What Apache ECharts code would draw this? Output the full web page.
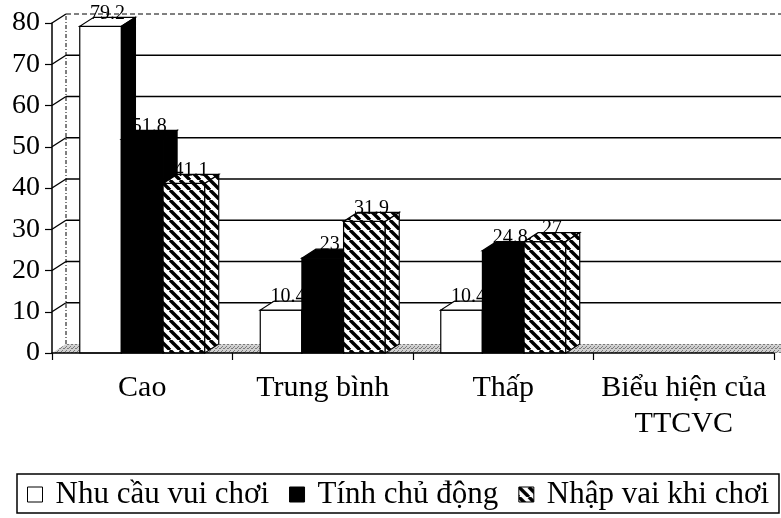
<!DOCTYPE html>
<html>
<head>
<meta charset="utf-8">
<script src="https://cdn.jsdelivr.net/npm/echarts@6/dist/echarts.min.js"></script>
<style>html,body{margin:0;padding:0;background:#fff}#c{width:781px;height:518px}</style>
</head>
<body>
<div id="c"></div>
<script>
const categories = ['Cao', 'Trung bình', 'Thấp', 'Biểu hiện của\nTTCVC'];
const seriesNames = ['Nhu cầu vui chơi', 'Tính chủ động', 'Nhập vai khi chơi'];
const nhuCauVuiChoi = [79.2, 10.4, 10.4];
const tinhChuDong = [51.8, 23, 24.8];
const nhapVaiKhiChoi = [41.1, 31.9, 27];
const yTicks = [0, 10, 20, 30, 40, 50, 60, 70, 80];

const DX = 14, DY = -9;
const FONT = 'Liberation Serif';

function makeHatch() {
  const c = document.createElement('canvas');
  c.width = 10; c.height = 10;
  const g = c.getContext('2d');
  g.fillStyle = '#fff'; g.fillRect(0, 0, 10, 10);
  g.strokeStyle = '#000'; g.lineWidth = 3.4;
  for (const k of [-10, 0, 10]) { g.beginPath(); g.moveTo(k, 0); g.lineTo(k + 10, 10); g.stroke(); }
  return c;
}
function makeFloor() {
  const c = document.createElement('canvas');
  c.width = 4; c.height = 4;
  const g = c.getContext('2d');
  g.fillStyle = '#d0d0d0'; g.fillRect(0, 0, 4, 4);
  g.fillStyle = '#7a7a7a';
  g.fillRect(0, 0, 1, 1); g.fillRect(2, 2, 1, 1); g.fillRect(3, 0, 1, 1); g.fillRect(1, 3, 1, 1);
  return c;
}
const hatch = { image: makeHatch(), repeat: 'repeat' };
const floorPat = { image: makeFloor(), repeat: 'repeat' };

const fills = [
  { front: '#fff', top: '#fff', side: '#000' },
  { front: '#000', top: '#000', side: '#000' },
  { front: hatch, top: hatch, side: hatch }
];

function barRender(pos) {
  return function (params, api) {
    const idx = api.value(0), v = api.value(1);
    const base = api.coord([idx, 0]);
    const top = api.coord([idx, v]);
    const band = api.size([1, 0])[0];
    const bw = band * 0.2308;
    const x0 = base[0] - 1.5 * bw + pos * bw;
    const yt = top[1], yb = base[1];
    const f = fills[pos];
    const st = { stroke: '#000', lineWidth: 1.2 };
    return {
      type: 'group',
      children: [
        { type: 'rect', shape: { x: x0, y: yt, width: bw, height: yb - yt }, style: Object.assign({ fill: f.front }, st) },
        { type: 'polygon', shape: { points: [[x0, yt], [x0 + bw, yt], [x0 + bw + DX, yt + DY], [x0 + DX, yt + DY]] }, style: Object.assign({ fill: f.top }, st) },
        { type: 'polygon', shape: { points: [[x0 + bw, yt], [x0 + bw + DX, yt + DY], [x0 + bw + DX, yb + DY], [x0 + bw, yb]] }, style: Object.assign({ fill: f.side }, st) },
        { type: 'text', z2: 100, style: { text: String(v), x: x0 + bw / 2 + DX / 2, y: yt + DY - 4, align: 'center', verticalAlign: 'middle', fill: '#000', font: '20px ' + FONT } }
      ]
    };
  };
}

function frameRender(params, api) {
  const cs = params.coordSys;
  const v = api.value(1);
  const y = api.coord([0, v])[1];
  const x0 = cs.x, w = cs.width;
  const maxV = yTicks[yTicks.length - 1];
  const children = [];
  if (v === 0) {
    children.push({ type: 'polygon', shape: { points: [[x0, y], [x0 + w + DX, y], [x0 + w + DX, y + DY], [x0 + DX, y + DY]] }, style: { fill: floorPat, stroke: null } });
    const yTop = api.coord([0, maxV])[1] + DY;
    children.push({ type: 'line', shape: { x1: x0 + DX, y1: y + DY, x2: x0 + DX, y2: yTop }, style: { stroke: '#000', lineWidth: 1, lineDash: [4, 2, 1, 2] } });
  } else {
    children.push({ type: 'line', shape: { x1: x0, y1: y, x2: x0 + DX, y2: y + DY }, style: { stroke: '#000', lineWidth: 1.4 } });
    children.push({ type: 'line', shape: { x1: x0 + DX, y1: y + DY, x2: x0 + w + DX, y2: y + DY }, style: v === maxV ? { stroke: '#000', lineWidth: 1, lineDash: [5, 3] } : { stroke: '#000', lineWidth: 1.6 } });
  }
  return { type: 'group', children: children };
}

const valueSets = [nhuCauVuiChoi, tinhChuDong, nhapVaiKhiChoi];
const barSeries = seriesNames.map((name, k) => ({
  name: name,
  type: 'custom',
  z: 2,
  renderItem: barRender(k),
  itemStyle: { color: k === 0 ? '#fff' : (k === 1 ? '#000' : hatch), borderColor: '#000', borderWidth: 1 },
  data: valueSets[k].map((v, i) => [i, v])
}));

const chart = echarts.init(document.getElementById('c'), null, { renderer: 'canvas' });
chart.setOption({
  animation: false,
  backgroundColor: '#fff',
  grid: { left: 52, right: 7, top: 23, bottom: 165 },
  xAxis: {
    type: 'category', data: categories, z: 3,
    axisLine: { lineStyle: { color: '#000', width: 1.5 } },
    axisTick: { show: true, length: 7, lineStyle: { color: '#000', width: 1.2 } },
    axisLabel: { color: '#000', fontFamily: FONT, fontSize: 30, lineHeight: 36, margin: 17, interval: 0 }
  },
  yAxis: {
    type: 'value', min: 0, max: 80, interval: 10, z: 3,
    axisLine: { show: true, lineStyle: { color: '#000', width: 1.5 } },
    axisTick: { show: true, length: 7, lineStyle: { color: '#000', width: 1.2 } },
    axisLabel: { color: '#000', fontFamily: FONT, fontSize: 28, margin: 12 },
    splitLine: { show: false }
  },
  legend: {
    data: seriesNames,
    left: 17, top: 474,
    orient: 'horizontal',
    borderColor: '#000', borderWidth: 1.5,
    padding: [5, 10, 3, 10],
    itemWidth: 15, itemHeight: 15, itemGap: 20,
    icon: 'rect',
    selectedMode: false,
    itemStyle: { borderColor: '#000', borderWidth: 1 },
    textStyle: { color: '#000', fontFamily: FONT, fontSize: 31, padding: [0, 0, 0, 8] }
  },
  series: [{
    type: 'custom', name: 'frame', z: 1,
    renderItem: frameRender,
    data: yTicks.map(v => [0, v]),
    silent: true
  }].concat(barSeries)
});
</script>
</body>
</html>
